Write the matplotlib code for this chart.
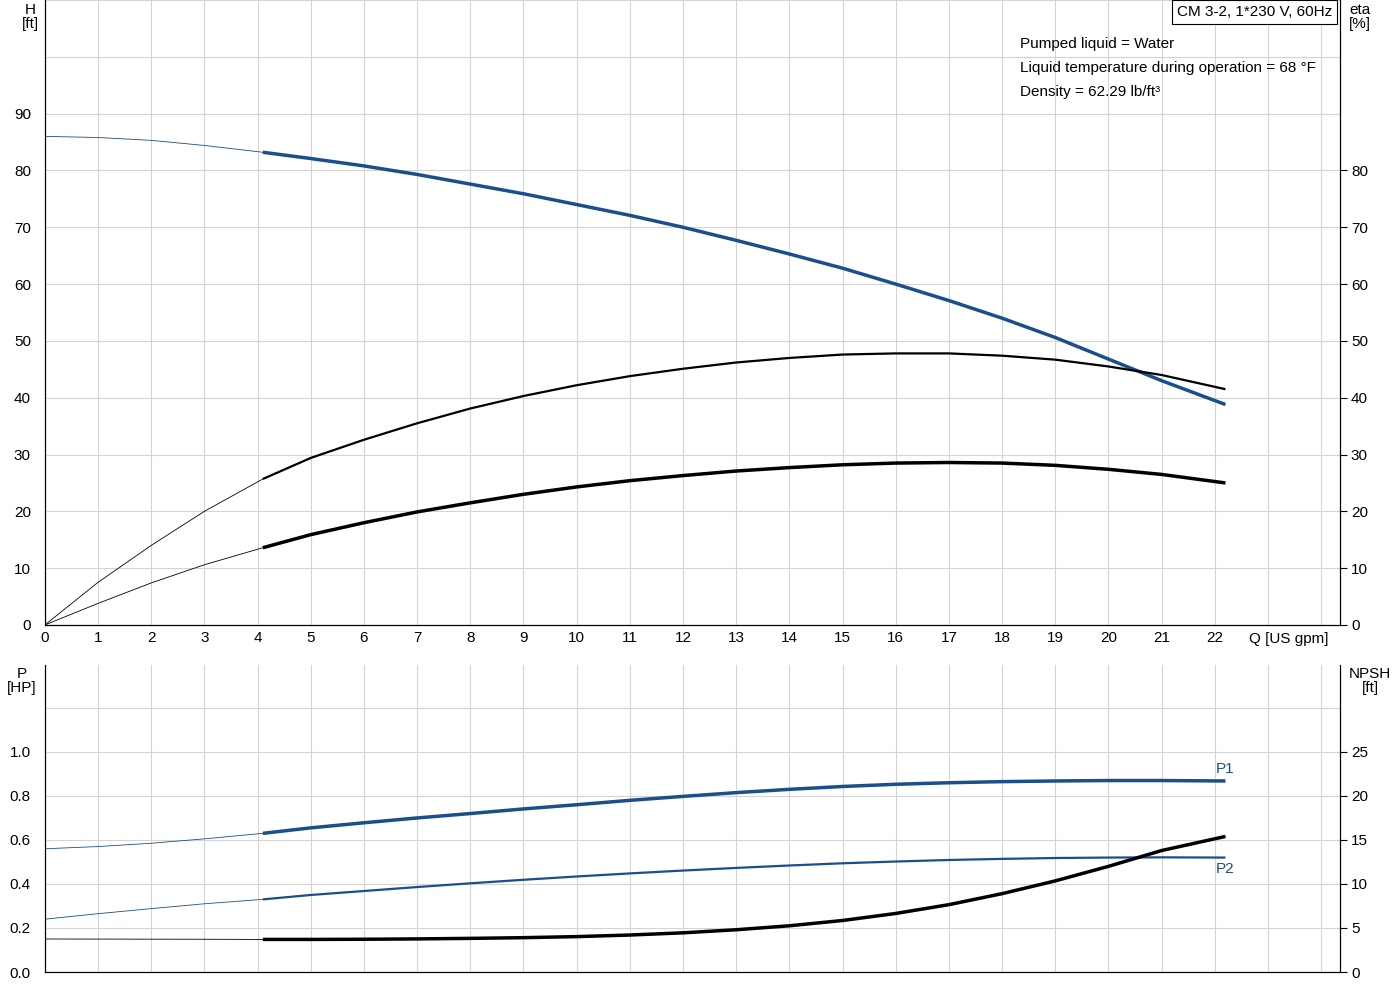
import matplotlib
matplotlib.use("Agg")
import matplotlib.pyplot as plt
import numpy as np

q = [0, 1, 2, 3, 4.1, 5, 6, 7, 8, 9, 10, 11, 12, 13, 14, 15, 16, 17, 18, 19, 20, 21, 22.2]
head = [86, 85.8, 85.3, 84.4, 83.2, 82.1, 80.8, 79.3, 77.6, 75.9, 74, 72.1, 70, 67.7, 65.3, 62.8, 60, 57.1, 54, 50.6, 46.8, 43, 38.8]
eta = [0, 7.5, 14, 20, 25.7, 29.4, 32.6, 35.5, 38.1, 40.3, 42.2, 43.8, 45.1, 46.2, 47, 47.6, 47.8, 47.8, 47.4, 46.7, 45.5, 44, 41.5]
eta_tot = [0, 3.8, 7.4, 10.6, 13.6, 15.9, 18, 19.9, 21.5, 23, 24.3, 25.4, 26.3, 27.1, 27.7, 28.2, 28.5, 28.6, 28.5, 28.1, 27.4, 26.5, 25]
p1 = [0.56, 0.57, 0.585, 0.605, 0.63, 0.655, 0.678, 0.70, 0.72, 0.741, 0.76, 0.78, 0.798, 0.815, 0.83, 0.843, 0.853, 0.86, 0.865, 0.868, 0.87, 0.87, 0.868]
p2 = [0.24, 0.265, 0.288, 0.31, 0.33, 0.35, 0.368, 0.386, 0.403, 0.419, 0.434, 0.448, 0.461, 0.473, 0.484, 0.494, 0.502, 0.509, 0.514, 0.518, 0.52, 0.521, 0.52]
npsh = [3.75, 3.74, 3.73, 3.72, 3.7, 3.7, 3.72, 3.76, 3.82, 3.9, 4.02, 4.2, 4.45, 4.8, 5.25, 5.85, 6.65, 7.65, 8.9, 10.35, 12.0, 13.8, 15.4]
q_ticks = list(range(0, 23))

BLUE = "#1a4f8b"
GRID = "#d4d4d4"
fs = 11
plt.rcParams['font.family'] = ['Liberation Sans', 'DejaVu Sans']

fig = plt.figure(figsize=(14, 10), dpi=100)
ax = fig.add_axes([0.032, 0.375, 0.925, 0.625])
ax.set_xlim(0, 24.35)
ax.set_ylim(0, 110)
ax2 = ax.twinx()
ax2.set_ylim(0, 110)

def split(x, y, a, color, lw):
    x = np.asarray(x); y = np.asarray(y)
    i = 4
    a.plot(x[:i+1], y[:i+1], color=color, lw=0.6)
    a.plot(x[i:], y[i:], color=color, lw=lw, solid_capstyle='butt', solid_joinstyle='round')

ax.set_xticks(list(range(0, 25)))
ax.set_yticks(range(0, 111, 10))
ax.grid(True, color=GRID, lw=0.8)
ax.set_xticklabels([str(t) if t in q_ticks else "" for t in range(25)], fontsize=fs)
ax.set_yticklabels([str(v) if v <= 90 else "" for v in range(0, 111, 10)], fontsize=fs)
ax.tick_params(axis='y', length=0, pad=10)
ax.tick_params(axis='x', length=0, pad=4)
ax2.set_yticks(range(0, 81, 10))
ax2.set_yticklabels([str(v) for v in range(0, 81, 10)], fontsize=fs)
ax2.tick_params(axis='y', length=5, pad=3)
ax.spines['top'].set_visible(False); ax2.spines['top'].set_visible(False)

split(q, head, ax, BLUE, 2.5)
split(q, eta, ax2, "black", 1.6)
split(q, eta_tot, ax2, "black", 2.5)

ax.text(22.65, -2.5, "Q [US gpm]", fontsize=fs, ha='left', va='center', clip_on=False)
fig.text(30/1400, 1-17/1000, "H\n[ft]", fontsize=fs, ha='center', va='center', linespacing=1.0)
fig.text(1360/1400, 1-17/1000, "eta\n[%]", fontsize=fs, ha='center', va='center', linespacing=1.0)
fig.text(1332/1400, 1-12/1000, "CM 3-2, 1*230 V, 60Hz", fontsize=fs, ha='right', va='center',
         bbox=dict(boxstyle='square,pad=0.3', fc='white', ec='black', lw=0.8))
for i, t in enumerate(["Pumped liquid = Water", "Liquid temperature during operation = 68 °F", "Density = 62.29 lb/ft³"]):
    fig.text(1020/1400, 1-(44+24*i)/1000, t, fontsize=fs, ha='left', va='center')

bx = fig.add_axes([0.032, 0.028, 0.925, 0.307])
bx.set_xlim(0, 24.35)
bx.set_ylim(0, 1.395)
bx.set_xticks(list(range(0, 25)))
bx.set_xticklabels([])
bx.set_yticks(np.arange(0, 1.25, 0.2))
bx.set_yticklabels([f"{v:.1f}" if v < 1.1 else "" for v in np.arange(0, 1.25, 0.2)], fontsize=fs)
bx.tick_params(length=0)
bx.tick_params(axis='y', pad=10)
bx.grid(True, color=GRID, lw=0.8)
bx.spines['top'].set_visible(False)
bx2 = bx.twinx()
bx2.set_ylim(0, 1.395 * 25)
bx2.set_yticks(range(0, 26, 5))
bx2.set_yticklabels([str(v) for v in range(0, 26, 5)], fontsize=fs)
bx2.tick_params(axis='y', length=5, pad=3)
bx2.spines['top'].set_visible(False)

split(q, p1, bx, BLUE, 2.5)
split(q, p2, bx, BLUE, 1.6)
split(q, npsh, bx2, "black", 2.5)
bx.text(22.2, 0.89, "P1", color=BLUE, fontsize=fs, ha='center', va='bottom')
bx.text(22.2, 0.50, "P2", color=BLUE, fontsize=fs, ha='center', va='top')
fig.text(22/1400, 1-681/1000, "P\n[HP]", fontsize=fs, ha='center', va='center', linespacing=1.0)
fig.text(1370/1400, 1-681/1000, "NPSH\n[ft]", fontsize=fs, ha='center', va='center', linespacing=1.0)

fig.savefig("out.png", dpi=100)
